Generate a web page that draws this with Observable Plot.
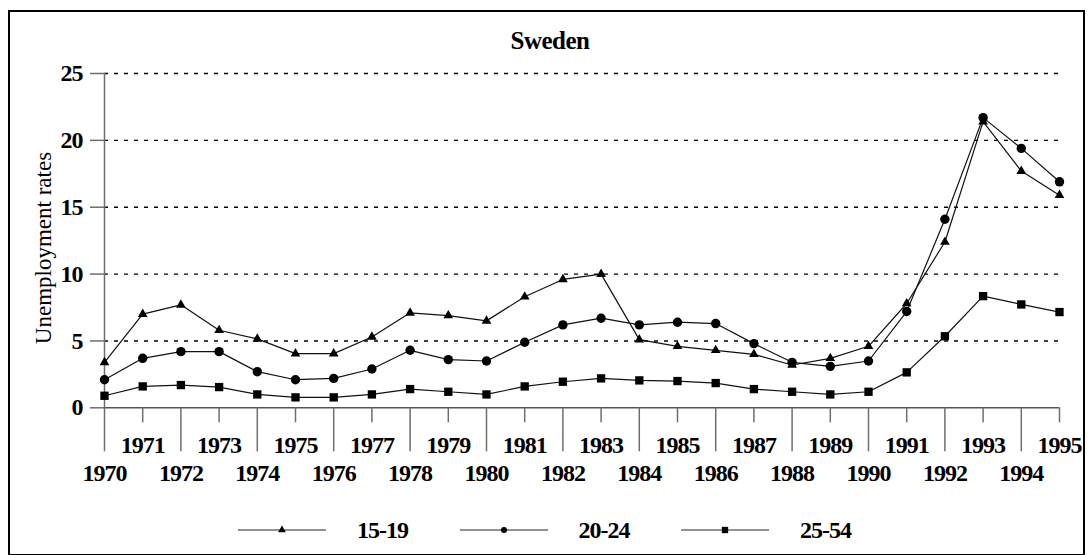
<!DOCTYPE html>
<html>
<head>
<meta charset="utf-8">
<script src="https://cdn.jsdelivr.net/npm/d3@7"></script>
<script src="https://cdn.jsdelivr.net/npm/@observablehq/plot@0.6"></script>
<style>
  html, body { margin: 0; padding: 0; background: #fff; }
  #wrap { position: relative; width: 1088px; height: 555px; overflow: hidden; font-family: "Liberation Serif", "DejaVu Serif", serif; }
  #frame { position: absolute; left: 8px; top: 10px; width: 1077px; height: 546px; border: 2px solid #000; box-sizing: border-box; }
  #title { position: absolute; left: 0; width: 1100px; top: 28px; text-align: center; font-weight: bold; font-size: 25px; line-height: 26px; letter-spacing: -0.5px; }
  #ylab { position: absolute; left: 44px; top: 248px; transform: translate(-50%, -50%) rotate(-90deg); white-space: nowrap; font-size: 23px; line-height: 24px; }
  #chart { position: absolute; left: 0; top: 0; }
  .leg { position: absolute; top: 518px; height: 24px; display: flex; align-items: center; }
  .leg svg { display: block; }
  .leg span { margin-left: 31px; font-weight: bold; font-size: 24px; line-height: 24px; letter-spacing: -1px; }
</style>
</head>
<body>
<div id="wrap">
  <div id="frame"></div>
  <div id="chart"></div>
  <div id="title">Sweden</div>
  <div id="ylab">Unemployment rates</div>
  <div id="legend"></div>
</div>
<script>
const years = d3.range(1970, 1996);
const series = ["15-19", "20-24", "25-54"];
const s1519 = [3.4, 7.0, 7.7, 5.8, 5.15, 4.05, 4.05, 5.3, 7.1, 6.9, 6.5, 8.3, 9.6, 10.0, 5.1, 4.6, 4.3, 4.0, 3.2, 3.7, 4.6, 7.8, 12.4, 21.4, 17.7, 15.9];
const s2024 = [2.1, 3.7, 4.2, 4.2, 2.7, 2.1, 2.2, 2.9, 4.3, 3.6, 3.5, 4.9, 6.2, 6.7, 6.2, 6.4, 6.3, 4.8, 3.4, 3.1, 3.5, 7.2, 14.1, 21.7, 19.4, 16.9];
const s2554 = [0.9, 1.6, 1.7, 1.55, 1.0, 0.78, 0.78, 1.0, 1.4, 1.2, 1.0, 1.6, 1.95, 2.2, 2.05, 2.0, 1.85, 1.4, 1.2, 1.0, 1.2, 2.65, 5.35, 8.35, 7.73, 7.16];
const yTicks = [0, 5, 10, 15, 20, 25];
const gridTicks = [5, 10, 15, 20, 25];
const oddYears = years.filter(y => y % 2 === 1);
const evenYears = years.filter(y => y % 2 === 0);

const toRows = vals => years.map((year, i) => ({year, v: vals[i]}));
const r1519 = toRows(s1519), r2024 = toRows(s2024), r2554 = toRows(s2554);

const axisGray = "#6e6e6e";
const chart = Plot.plot({
  width: 1088,
  height: 500,
  marginLeft: 104,
  marginRight: 29,
  marginTop: 73,
  marginBottom: 92.7,
  style: {fontFamily: "Liberation Serif, DejaVu Serif, serif", fontSize: "24px", fontWeight: "bold", letterSpacing: "-1px", background: "transparent", overflow: "visible", color: "#000"},
  x: {domain: [1970, 1995]},
  y: {domain: [0, 25]},
  marks: [
    Plot.ruleY(gridTicks, {x1: 1970, x2: 1995, stroke: "#000", strokeWidth: 1.4, strokeDasharray: "4,6"}),
    Plot.ruleX([1970], {y1: 0, y2: 25, stroke: axisGray, strokeWidth: 1.5}),
    Plot.ruleY([0], {x1: 1970, x2: 1995, stroke: "#555", strokeWidth: 1.5}),
    Plot.axisY({ticks: yTicks, tickSize: 14, tickPadding: 8, label: null, stroke: axisGray, fill: "#000", strokeWidth: 1.5}),
    Plot.axisX({ticks: oddYears, tickSize: 15, tickPadding: 13, tickFormat: d => String(d), label: null, stroke: axisGray, fill: "#000", strokeWidth: 1.5}),
    Plot.axisX({ticks: evenYears, tickSize: 44, tickPadding: 12, tickFormat: d => String(d), label: null, stroke: axisGray, fill: "#000", strokeWidth: 1.5}),
    Plot.line(r2554, {x: "year", y: "v", stroke: "#111", strokeWidth: 1.2}),
    Plot.line(r2024, {x: "year", y: "v", stroke: "#111", strokeWidth: 1.2}),
    Plot.line(r1519, {x: "year", y: "v", stroke: "#111", strokeWidth: 1.2}),
    Plot.dot(r2554, {x: "year", y: "v", symbol: "square", r: 4.7, fill: "#000", stroke: "none"}),
    Plot.dot(r2024, {x: "year", y: "v", symbol: "circle", r: 4.7, fill: "#000", stroke: "none"}),
    Plot.dot(r1519, {x: "year", y: "v", symbol: "triangle", r: 3.6, fill: "#000", stroke: "none"})
  ]
});
chart.querySelectorAll("text").forEach(t => t.setAttribute("font-family", "Liberation Serif"));
document.getElementById("chart").appendChild(chart);

// Legend
const legendSymbols = [d3.symbolTriangle, d3.symbolCircle, d3.symbolSquare];
const legendSizes = [26, 28, 40];
const legend = document.getElementById("legend");
series.forEach((name, i) => {
  const item = document.createElement("div");
  item.className = "leg";
  item.style.left = (238 + i * 221.5) + "px";
  const path = d3.symbol(legendSymbols[i], legendSizes[i])();
  item.innerHTML = `<svg width="88" height="16"><line x1="0" x2="88" y1="8" y2="8" stroke="${axisGray}" stroke-width="1.5"/><path d="${path}" transform="translate(44,8)" fill="#000"/></svg><span>${name}</span>`;
  legend.appendChild(item);
});
</script>
</body>
</html>
